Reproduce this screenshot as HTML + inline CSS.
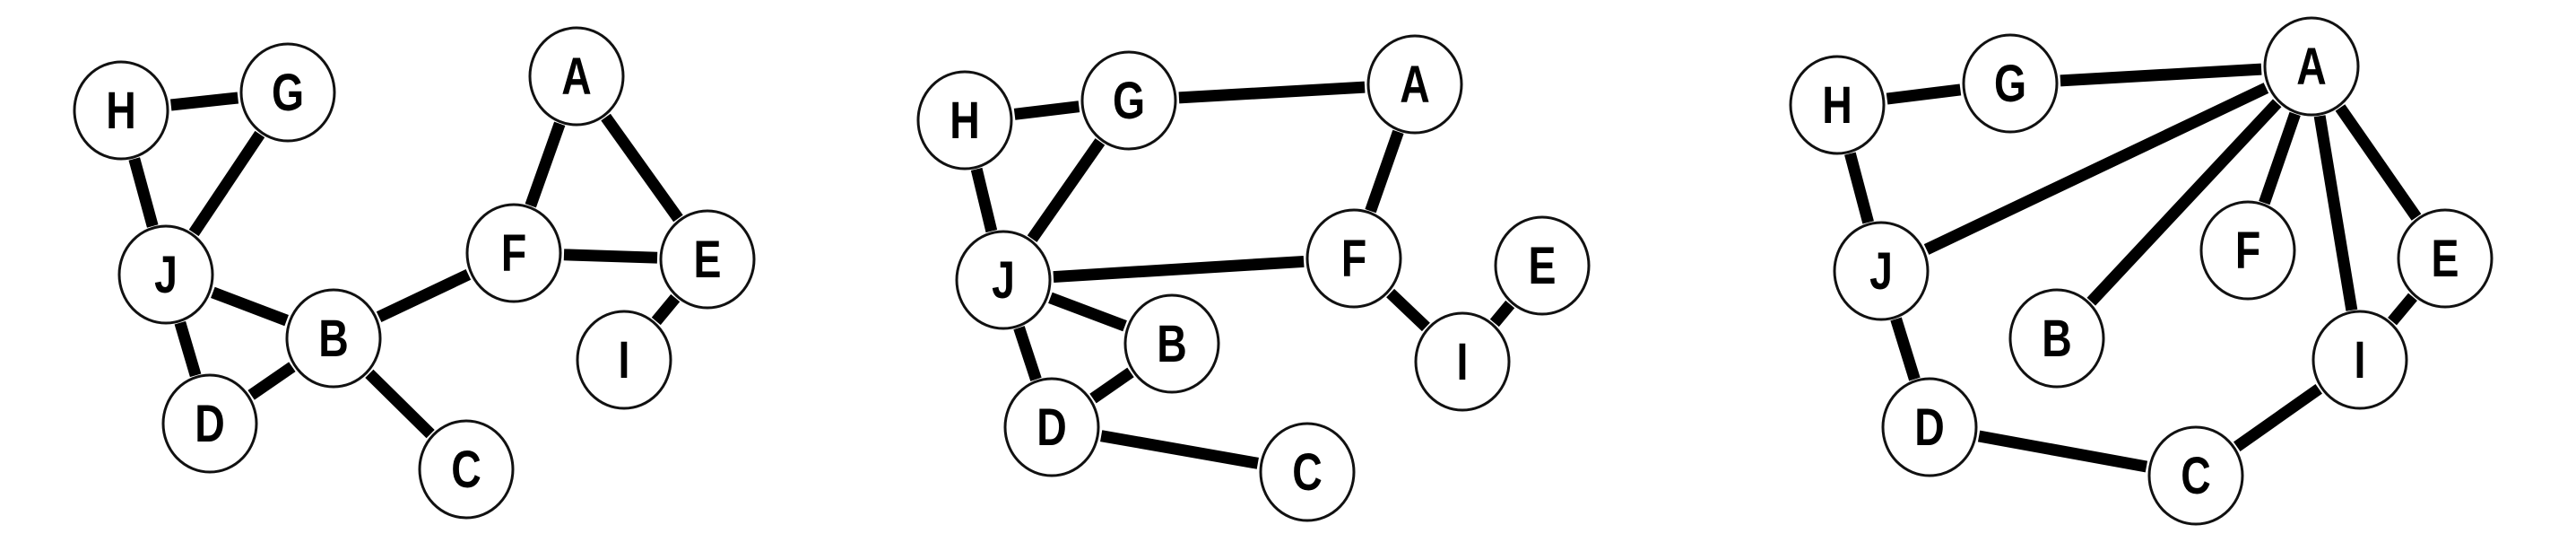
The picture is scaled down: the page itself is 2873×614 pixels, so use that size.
<!DOCTYPE html>
<html><head><meta charset="utf-8"><style>
html,body{margin:0;padding:0;background:#fff;}
svg{display:block;}
</style></head><body>
<svg id="s" width="2873" height="614" viewBox="0 0 2873 614" xmlns="http://www.w3.org/2000/svg">
<g id="e" stroke="#000" stroke-width="13" stroke-linecap="butt"></g>
<g id="n"></g>
</svg>
<script>
var graphs=[
 {nodes:{H:[135,123],G:[321,103],A:[643,85],J:[185,306],F:[573,282],E:[789,289],B:[372,377],I:[696,401],D:[234,472],C:[520,523]},
  edges:["HG","HJ","GJ","JB","JD","DB","BF","BC","FA","AE","FE","EI"]},
 {nodes:{H:[1076,134],G:[1259,112],A:[1578,94],J:[1119,312],F:[1510,288],E:[1720,296],B:[1307,383],I:[1631,403],D:[1173,476],C:[1458,526]},
  edges:["HG","GA","HJ","GJ","AF","JF","JB","JD","DB","DC","FI","IE"]},
 {nodes:{H:[2049,117],G:[2242,93],A:[2578,74],J:[2098,302],F:[2507,279],E:[2727,288],B:[2294,377],I:[2632,401],D:[2152,476],C:[2449,530]},
  edges:["HG","GA","AJ","AB","AF","AI","AE","HJ","JD","DC","CI","IE"]}
];
var R=52,ns="http://www.w3.org/2000/svg";
var eg=document.getElementById("e"),ng=document.getElementById("n");
graphs.forEach(function(g){
 g.edges.forEach(function(ed){
  var a=g.nodes[ed[0]],b=g.nodes[ed[1]];
  var dx=b[0]-a[0],dy=b[1]-a[1],L=Math.sqrt(dx*dx+dy*dy),ux=dx/L,uy=dy/L,s=R+4;
  var l=document.createElementNS(ns,"line");
  l.setAttribute("x1",a[0]+ux*s);l.setAttribute("y1",a[1]+uy*s);
  l.setAttribute("x2",b[0]-ux*s);l.setAttribute("y2",b[1]-uy*s);
  eg.appendChild(l);
 });
 for(var k in g.nodes){
  var p=g.nodes[k];
  var c=document.createElementNS(ns,"ellipse");
  c.setAttribute("cx",p[0]);c.setAttribute("cy",p[1]);c.setAttribute("rx",R);c.setAttribute("ry",R+2);
  c.setAttribute("fill","#fff");c.setAttribute("stroke","#111");c.setAttribute("stroke-width","3");
  ng.appendChild(c);
  var t=document.createElementNS(ns,"text");
  t.setAttribute("x",0);t.setAttribute("y",0);
  t.setAttribute("transform","translate("+p[0]+","+(p[1]+20)+") scale(0.8,1)");
  t.setAttribute("text-anchor","middle");
  t.setAttribute("font-family","Liberation Sans, Arial, sans-serif");
  t.setAttribute("font-weight","bold");t.setAttribute("font-size","58");
  t.textContent=k;ng.appendChild(t);
 }
});
</script>
</body></html>
